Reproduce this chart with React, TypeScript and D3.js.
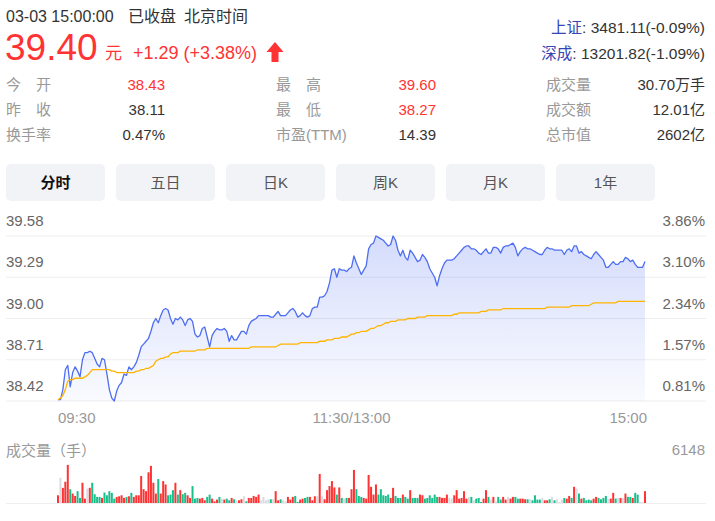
import * as d3 from "d3";

// --- data ---
const prevClose = 38.11;
const lastPrice = "39.40";
const change = "+1.29 (+3.38%)";
const stamp = ["03-03 15:00:00", "已收盘", "北京时间"];
const indexNames = ["上证", "深成"];
const indexValues = ["3481.11(-0.09%)", "13201.82(-1.09%)"];

const col1Labels = ["今　开", "昨　收", "换手率"];
const col1Values = ["38.43", "38.11", "0.47%"];
const col2Labels = ["最　高", "最　低", "市盈(TTM)"];
const col2Values = ["39.60", "38.27", "14.39"];
const col3Labels = ["成交量", "成交额", "总市值"];
const col3Values = ["30.70万手", "12.01亿", "2602亿"];

const tabs = ["分时", "五日", "日K", "周K", "月K", "1年"];
const priceTicks = [39.58, 39.29, 39.0, 38.71, 38.42];
const timeLabels = ["09:30", "11:30/13:00", "15:00"];
const volMax = 6148;

// one value per minute, 09:30..11:30, 13:01..15:00
const price = [
  38.43, 38.43, 38.5, 38.64, 38.67, 38.52, 38.62, 38.66, 38.63, 38.59,
  38.71, 38.76, 38.76, 38.77, 38.76, 38.72, 38.68, 38.66, 38.72, 38.71,
  38.61, 38.5, 38.44, 38.27, 38.49, 38.53, 38.55, 38.61, 38.6, 38.66,
  38.64, 38.66, 38.69, 38.74, 38.8, 38.82, 38.84, 38.86, 38.91, 38.97,
  39.0, 38.97, 39.02, 39.06, 39.07, 39.06, 39.0, 38.96, 39.0, 38.99,
  39.01, 38.99, 38.95, 38.99, 39.0, 38.98, 38.89, 38.87, 38.88, 38.93,
  38.94, 38.87, 38.8, 38.88, 38.91, 38.93, 38.92, 38.92, 38.93, 38.91,
  38.84, 38.88, 38.85, 38.85, 38.88, 38.91, 38.91, 38.89, 38.95, 38.98,
  38.99, 39.0, 39.02, 39.02, 39.02, 39.02, 39.02, 39.01, 39.01, 39.03,
  39.05, 39.02, 39.02, 39.02, 39.04, 39.06, 39.07, 39.05, 39.01, 39.02,
  39.04, 39.02, 39.01, 39.02, 39.07, 39.08, 39.08, 39.15, 39.15, 39.16,
  39.19, 39.25, 39.34, 39.35, 39.29, 39.35, 39.34, 39.34, 39.33, 39.35,
  39.36, 39.44, 39.39, 39.35, 39.31, 39.34, 39.37, 39.49, 39.52, 39.53,
  39.59, 39.57, 39.56, 39.55, 39.53, 39.51, 39.52, 39.58, 39.55, 39.48,
  39.44, 39.48, 39.43, 39.41, 39.48, 39.46, 39.43, 39.4, 39.41, 39.45,
  39.43, 39.4, 39.35, 39.32, 39.29, 39.23, 39.3, 39.35, 39.39, 39.41,
  39.41, 39.41, 39.42, 39.44, 39.46, 39.48, 39.5, 39.51, 39.51, 39.49,
  39.49, 39.48, 39.46, 39.45, 39.47, 39.49, 39.46, 39.46, 39.5, 39.5,
  39.49, 39.46, 39.5, 39.51, 39.51, 39.52, 39.53, 39.5, 39.44, 39.47,
  39.49, 39.5, 39.49, 39.49, 39.48, 39.47, 39.46, 39.45, 39.45, 39.48,
  39.5, 39.49, 39.49, 39.48, 39.48, 39.48, 39.48, 39.45, 39.48, 39.49,
  39.47, 39.51, 39.51, 39.46, 39.47, 39.45, 39.44, 39.43, 39.42, 39.45,
  39.47, 39.45, 39.43, 39.41, 39.36, 39.36, 39.38, 39.4, 39.38, 39.38,
  39.4, 39.4, 39.43, 39.42, 39.4, 39.41, 39.38, 39.36, 39.36, 39.36,
  39.4,
];

const avgPrice = [
  38.43, 38.44, 38.46, 38.5, 38.56, 38.57, 38.57, 38.58, 38.58, 38.58,
  38.58, 38.59, 38.6, 38.62, 38.64, 38.64, 38.64, 38.64, 38.64, 38.64,
  38.64, 38.64, 38.63, 38.63, 38.62, 38.62, 38.62, 38.62, 38.62, 38.62,
  38.62, 38.62, 38.63, 38.63, 38.64, 38.64, 38.65, 38.65, 38.66, 38.67,
  38.7, 38.71, 38.72, 38.72, 38.73, 38.73, 38.75, 38.76, 38.76, 38.76,
  38.77, 38.77, 38.77, 38.77, 38.77, 38.77, 38.77, 38.78, 38.78, 38.78,
  38.78, 38.79, 38.79, 38.79, 38.79, 38.79, 38.79, 38.79, 38.79, 38.79,
  38.79, 38.79, 38.79, 38.79, 38.79, 38.79, 38.79, 38.79, 38.79, 38.8,
  38.8, 38.8, 38.8, 38.8, 38.8, 38.8, 38.8, 38.8, 38.8, 38.8,
  38.81, 38.82, 38.82, 38.82, 38.82, 38.82, 38.82, 38.82, 38.82, 38.83,
  38.83, 38.83, 38.83, 38.83, 38.83, 38.83, 38.83, 38.84, 38.84, 38.84,
  38.85, 38.85, 38.85, 38.86, 38.86, 38.86, 38.87, 38.87, 38.87, 38.88,
  38.89, 38.89, 38.9, 38.9, 38.91, 38.91, 38.91, 38.92, 38.93, 38.93,
  38.94, 38.95, 38.95, 38.96, 38.97, 38.97, 38.98, 38.98, 38.98, 38.99,
  38.99, 38.99, 38.99, 39.0, 39.0, 39.0, 39.0, 39.01, 39.01, 39.01,
  39.01, 39.02, 39.02, 39.02, 39.02, 39.02, 39.02, 39.02, 39.02, 39.02,
  39.02, 39.02, 39.03, 39.03, 39.04, 39.04, 39.04, 39.04, 39.04, 39.04,
  39.04, 39.04, 39.04, 39.05, 39.05, 39.05, 39.06, 39.06, 39.06, 39.06,
  39.06, 39.06, 39.07, 39.07, 39.07, 39.07, 39.07, 39.07, 39.07, 39.07,
  39.07, 39.07, 39.07, 39.07, 39.07, 39.07, 39.07, 39.07, 39.07, 39.07,
  39.08, 39.08, 39.08, 39.08, 39.08, 39.08, 39.08, 39.08, 39.08, 39.08,
  39.09, 39.09, 39.09, 39.09, 39.09, 39.09, 39.09, 39.09, 39.1, 39.11,
  39.11, 39.11, 39.11, 39.11, 39.11, 39.11, 39.11, 39.11, 39.11, 39.12,
  39.12, 39.12, 39.12, 39.12, 39.12, 39.12, 39.12, 39.12, 39.12, 39.12,
  39.12,
];

const volume = [
  1200, 3940, 2360, 3310, 5930, 2150, 1470, 1100, 1840, 790,
  3150, 680, 2260, 2360, 3150, 1370, 950, 950, 790, 1630,
  1200, 1840, 1580, 680, 950, 1050, 1200, 790, 950, 1050,
  1580, 950, 1200, 1200, 4200, 2150, 1840, 4780, 5780, 3150,
  1470, 3730, 1470, 3410, 2890, 1200, 1310, 2000, 3150, 1310,
  2000, 1370, 1580, 1200, 790, 2630, 680, 790, 680, 790,
  420, 950, 1310, 680, 260, 530, 950, 680, 530, 680,
  420, 790, 580, 420, 420, 580, 1050, 260, 790, 790,
  1100, 950, 1310, 420, 950, 420, 580, 580, 580, 1840,
  420, 580, 420, 260, 950, 530, 950, 1100, 160, 530,
  680, 790, 950, 950, 420, 1050, 1050, 4520, 1050, 580,
  2000, 2630, 3410, 2420, 1310, 2420, 790, 680, 790, 790,
  2150, 5150, 2150, 1100, 950, 790, 680, 4360, 2520, 1310,
  2890, 1310, 2150, 1200, 1100, 1310, 790, 2360, 1100, 790,
  790, 1310, 950, 680, 2000, 790, 790, 790, 1310, 1200,
  680, 790, 1200, 790, 1310, 950, 950, 790, 790, 1310,
  790, 680, 1200, 2000, 680, 790, 1840, 680, 950, 950,
  420, 680, 790, 160, 680, 2000, 950, 530, 950, 260,
  950, 530, 950, 530, 950, 680, 950, 950, 680, 680,
  680, 580, 580, 580, 420, 1200, 530, 530, 790, 420,
  420, 580, 950, 420, 580, 160, 530, 790, 680, 1100,
  790, 2520, 2260, 1470, 680, 790, 420, 530, 420, 680,
  950, 790, 580, 790, 1100, 680, 680, 1580, 680, 790,
  790, 790, 1470, 950, 950, 790, 1580, 1310, 160, 160,
  1840,
];

const FONT = "'Liberation Sans', Arial, 'Noto Sans CJK SC', sans-serif";
const RED = "#f33";
const GREEN = "#18bf8b";
const FLAT = "#d9dbe2";
const BLUE = "#4e6ef2";
const GOLD = "#ffb400";

export default function App() {
  const width = 715;
  const height = 521;

  const x = d3.scaleLinear([0, price.length - 1], [58, 645]);
  const y = d3.scaleLinear([38.42, 39.58], [401, 236]).clamp(true);
  const vy = d3.scaleLinear([0, volMax], [503, 463.5]);

  const line = d3.line<number>((_d, i) => x(i), (d) => y(d));
  const area = d3.area<number>((_d, i) => x(i), 401, (d) => y(d));

  const pct = (v: number) => (((v - prevClose) / prevClose) * 100).toFixed(2) + "%";
  const barColor = (i: number) => {
    const prev = i === 0 ? prevClose : price[i - 1];
    return price[i] > prev ? RED : price[i] < prev ? GREEN : FLAT;
  };
  const rowY = [90, 115, 140];

  return (
    <svg width={width} height={height} style={{ position: "absolute", left: 0, top: 0, background: "#fff" }} fontFamily={FONT}>
      <defs>
        <linearGradient id="fillBlue" gradientUnits="userSpaceOnUse" x1="0" y1="236" x2="0" y2="401">
          <stop offset="0" stopColor={BLUE} stopOpacity="0.24" />
          <stop offset="1" stopColor={BLUE} stopOpacity="0.03" />
        </linearGradient>
      </defs>

      {/* header */}
      <g fontSize="16" fill="#333">
        <text x="6" y="22">{stamp[0]}</text>
        <text x="128" y="22">{stamp[1]}</text>
        <text x="184" y="22">{stamp[2]}</text>
      </g>
      <text x="5" y="60" fontSize="37" fill={RED}>{lastPrice}</text>
      <text x="105" y="59" fontSize="17" fill={RED}>元</text>
      <text x="133" y="59" fontSize="18" fill={RED}>{change}</text>
      <path d="M275,42 L283.5,52 L278.5,52 L278.5,62 L271.5,62 L271.5,52 L266.5,52 Z" fill={RED} />

      {indexNames.map((n, i) => (
        <text key={n} x="705" y={i === 0 ? 33 : 59} fontSize="15.5" textAnchor="end" fill="#333">
          <tspan fill="#3446b4">{n}</tspan>: {indexValues[i]}
        </text>
      ))}

      <g fontSize="15">
        {rowY.map((ry, i) => (
          <g key={i}>
            <text x="6" y={ry} fill="#999">{col1Labels[i]}</text>
            <text x="165" y={ry} textAnchor="end" fill={i === 0 ? RED : "#333"}>{col1Values[i]}</text>
            <text x="276" y={ry} fill="#999">{col2Labels[i]}</text>
            <text x="436" y={ry} textAnchor="end" fill={i < 2 ? RED : "#333"}>{col2Values[i]}</text>
            <text x="546" y={ry} fill="#999">{col3Labels[i]}</text>
            <text x="705" y={ry} textAnchor="end" fill="#333">{col3Values[i]}</text>
          </g>
        ))}
      </g>

      {/* tabs */}
      <g fontSize="15">
        {tabs.map((t, i) => (
          <g key={t}>
            <rect x={6 + i * 110} y="164" width="99" height="37" rx="5" fill="#f2f3f6" />
            <text x={6 + i * 110 + 49.5} y="188" textAnchor="middle" fill={i === 0 ? "#111" : "#555"} fontWeight={i === 0 ? "bold" : "normal"}>{t}</text>
          </g>
        ))}
      </g>

      {/* price chart */}
      <g stroke="#eeeeee" strokeWidth="1.2">
        {priceTicks.map((v) => (
          <line key={v} x1="6" x2="706" y1={y(v)} y2={y(v)} />
        ))}
      </g>
      <path d={area(price) || ""} fill="url(#fillBlue)" />
      <path d={line(price) || ""} fill="none" stroke={BLUE} strokeWidth="1.3" strokeLinejoin="round" />
      <path d={line(avgPrice) || ""} fill="none" stroke={GOLD} strokeWidth="1.3" />

      <g fontSize="15" fill="#666">
        {priceTicks.map((v) => (
          <g key={v}>
            <text x="6" y={y(v) - 10}>{v.toFixed(2)}</text>
            <text x="705" y={y(v) - 10} textAnchor="end">{pct(v)}</text>
          </g>
        ))}
      </g>
      <g fontSize="15" fill="#999">
        <text x={x(0)} y="423">{timeLabels[0]}</text>
        <text x={x(120)} y="423" textAnchor="middle">{timeLabels[1]}</text>
        <text x={x(240) + 2} y="423" textAnchor="end">{timeLabels[2]}</text>
      </g>

      {/* volume */}
      <text x="6" y="456" fontSize="15" fill="#999">成交量（手）</text>
      <text x="705" y="455" fontSize="15" fill="#999" textAnchor="end">{volMax}</text>
      <line x1="6" x2="706" y1="503.5" y2="503.5" stroke="#eeeeee" />
      {volume.map((v, i) => (
        <rect key={i} x={x(i) - 1} y={vy(v)} width="2" height={503 - vy(v)} fill={barColor(i)} />
      ))}
    </svg>
  );
}
